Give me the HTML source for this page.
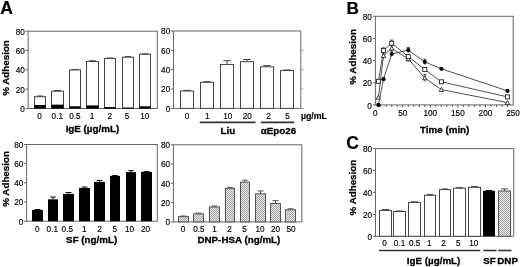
<!DOCTYPE html>
<html><head><meta charset="utf-8"><style>
html,body{margin:0;padding:0;background:#fff;width:520px;height:267px;overflow:hidden}
svg{display:block;filter:grayscale(1) blur(0.35px)}
text{font-family:"Liberation Sans", sans-serif}
</style></head><body>
<svg width="520" height="267" viewBox="0 0 520 267">
<defs><pattern id="hatch" width="2" height="2" patternUnits="userSpaceOnUse">
<rect width="2" height="2" fill="#e8e8e8"/><rect width="1" height="1" fill="#a6a6a6"/><rect x="1" y="1" width="1" height="1" fill="#a6a6a6"/></pattern></defs>
<rect width="520" height="267" fill="#fff"/>
<text x="0.2" y="14" font-size="17.5" text-anchor="start" font-weight="bold" fill="#000" stroke="#000" stroke-width="0.2">A</text>
<text x="346.4" y="13.8" font-size="17.2" text-anchor="start" font-weight="bold" fill="#000" stroke="#000" stroke-width="0.2">B</text>
<text x="346.2" y="148.5" font-size="17.5" text-anchor="start" font-weight="bold" fill="#000" stroke="#000" stroke-width="0.2">C</text>
<rect x="28.1" y="31.2" width="129.2" height="77.3" fill="none" stroke="#666" stroke-width="1"/>
<line x1="25.5" y1="108.5" x2="28.1" y2="108.5" stroke="#666" stroke-width="1"/>
<text x="24.8" y="111.9" font-size="8.2" text-anchor="end" fill="#000" stroke="#000" stroke-width="0.15">0</text>
<line x1="25.5" y1="89.17" x2="28.1" y2="89.17" stroke="#666" stroke-width="1"/>
<text x="24.8" y="92.58" font-size="8.2" text-anchor="end" fill="#000" stroke="#000" stroke-width="0.15">20</text>
<line x1="25.5" y1="69.85" x2="28.1" y2="69.85" stroke="#666" stroke-width="1"/>
<text x="24.8" y="73.25" font-size="8.2" text-anchor="end" fill="#000" stroke="#000" stroke-width="0.15">40</text>
<line x1="25.5" y1="50.53" x2="28.1" y2="50.53" stroke="#666" stroke-width="1"/>
<text x="24.8" y="53.93" font-size="8.2" text-anchor="end" fill="#000" stroke="#000" stroke-width="0.15">60</text>
<line x1="25.5" y1="31.2" x2="28.1" y2="31.2" stroke="#666" stroke-width="1"/>
<text x="24.8" y="34.6" font-size="8.2" text-anchor="end" fill="#000" stroke="#000" stroke-width="0.15">80</text>
<rect x="34.5" y="96.71" width="11" height="11.79" fill="#fff" stroke="#444" stroke-width="1"/>
<rect x="34.5" y="105.02" width="11" height="3.48" fill="#000"/>
<line x1="40" y1="96.04" x2="40" y2="96.71" stroke="#444" stroke-width="1"/>
<line x1="36.76" y1="96.04" x2="43.24" y2="96.04" stroke="#444" stroke-width="1"/>
<rect x="51.5" y="91.2" width="12" height="17.3" fill="#fff" stroke="#444" stroke-width="1"/>
<rect x="51.5" y="104.64" width="12" height="3.86" fill="#000"/>
<line x1="57.5" y1="90.53" x2="57.5" y2="91.2" stroke="#444" stroke-width="1"/>
<line x1="53.99" y1="90.53" x2="61.01" y2="90.53" stroke="#444" stroke-width="1"/>
<rect x="69.5" y="69.95" width="11" height="38.55" fill="#fff" stroke="#444" stroke-width="1"/>
<rect x="69.5" y="106.28" width="11" height="2.22" fill="#000"/>
<line x1="75" y1="69.46" x2="75" y2="69.95" stroke="#444" stroke-width="1"/>
<line x1="71.76" y1="69.46" x2="78.24" y2="69.46" stroke="#444" stroke-width="1"/>
<rect x="86.5" y="61.44" width="12" height="47.06" fill="#fff" stroke="#444" stroke-width="1"/>
<rect x="86.5" y="105.41" width="12" height="3.09" fill="#000"/>
<line x1="92.5" y1="60.77" x2="92.5" y2="61.44" stroke="#444" stroke-width="1"/>
<line x1="88.99" y1="60.77" x2="96.01" y2="60.77" stroke="#444" stroke-width="1"/>
<rect x="104.5" y="58.54" width="11" height="49.96" fill="#fff" stroke="#444" stroke-width="1"/>
<rect x="104.5" y="107.05" width="11" height="1.45" fill="#000"/>
<line x1="110" y1="57.97" x2="110" y2="58.54" stroke="#444" stroke-width="1"/>
<line x1="106.76" y1="57.97" x2="113.24" y2="57.97" stroke="#444" stroke-width="1"/>
<rect x="122.5" y="57.19" width="11" height="51.31" fill="#fff" stroke="#444" stroke-width="1"/>
<rect x="122.5" y="107.53" width="11" height="0.97" fill="#000"/>
<line x1="128" y1="56.61" x2="128" y2="57.19" stroke="#444" stroke-width="1"/>
<line x1="124.76" y1="56.61" x2="131.24" y2="56.61" stroke="#444" stroke-width="1"/>
<rect x="139.5" y="54.29" width="11" height="54.21" fill="#fff" stroke="#444" stroke-width="1"/>
<rect x="139.5" y="106.28" width="11" height="2.22" fill="#000"/>
<line x1="145" y1="53.81" x2="145" y2="54.29" stroke="#444" stroke-width="1"/>
<line x1="141.76" y1="53.81" x2="148.24" y2="53.81" stroke="#444" stroke-width="1"/>
<text x="39.5" y="119.3" font-size="8.2" text-anchor="middle" fill="#000" stroke="#000" stroke-width="0.15">0</text>
<text x="57.3" y="119.3" font-size="8.2" text-anchor="middle" fill="#000" stroke="#000" stroke-width="0.15">0.1</text>
<text x="74.9" y="119.3" font-size="8.2" text-anchor="middle" fill="#000" stroke="#000" stroke-width="0.15">0.5</text>
<text x="92.1" y="119.3" font-size="8.2" text-anchor="middle" fill="#000" stroke="#000" stroke-width="0.15">1</text>
<text x="109.8" y="119.3" font-size="8.2" text-anchor="middle" fill="#000" stroke="#000" stroke-width="0.15">2</text>
<text x="127" y="119.3" font-size="8.2" text-anchor="middle" fill="#000" stroke="#000" stroke-width="0.15">5</text>
<text x="144.7" y="119.3" font-size="8.2" text-anchor="middle" fill="#000" stroke="#000" stroke-width="0.15">10</text>
<text x="92.4" y="131.5" font-size="9.8" text-anchor="middle" font-weight="bold" fill="#000" stroke="#000" stroke-width="0.3">IgE (µg/mL)</text>
<text x="0" y="0" font-size="9.8" font-weight="bold" text-anchor="middle" fill="#000" stroke="#000" stroke-width="0.25" transform="translate(9,68) rotate(-90)">% Adhesion</text>
<rect x="173.5" y="31" width="127.3" height="77.4" fill="none" stroke="#666" stroke-width="1"/>
<line x1="170.9" y1="108.4" x2="173.5" y2="108.4" stroke="#666" stroke-width="1"/>
<line x1="300.8" y1="108.4" x2="303.4" y2="108.4" stroke="#999" stroke-width="1"/>
<text x="170.2" y="111.8" font-size="8.2" text-anchor="end" fill="#000" stroke="#000" stroke-width="0.15">0</text>
<line x1="170.9" y1="89.05" x2="173.5" y2="89.05" stroke="#666" stroke-width="1"/>
<line x1="300.8" y1="89.05" x2="303.4" y2="89.05" stroke="#999" stroke-width="1"/>
<text x="170.2" y="92.45" font-size="8.2" text-anchor="end" fill="#000" stroke="#000" stroke-width="0.15">20</text>
<line x1="170.9" y1="69.7" x2="173.5" y2="69.7" stroke="#666" stroke-width="1"/>
<line x1="300.8" y1="69.7" x2="303.4" y2="69.7" stroke="#999" stroke-width="1"/>
<text x="170.2" y="73.1" font-size="8.2" text-anchor="end" fill="#000" stroke="#000" stroke-width="0.15">40</text>
<line x1="170.9" y1="50.35" x2="173.5" y2="50.35" stroke="#666" stroke-width="1"/>
<line x1="300.8" y1="50.35" x2="303.4" y2="50.35" stroke="#999" stroke-width="1"/>
<text x="170.2" y="53.75" font-size="8.2" text-anchor="end" fill="#000" stroke="#000" stroke-width="0.15">60</text>
<line x1="170.9" y1="31" x2="173.5" y2="31" stroke="#666" stroke-width="1"/>
<text x="170.2" y="34.4" font-size="8.2" text-anchor="end" fill="#000" stroke="#000" stroke-width="0.15">80</text>
<rect x="180.5" y="90.99" width="13" height="17.41" fill="#fff" stroke="#444" stroke-width="1"/>
<line x1="187" y1="90.4" x2="187" y2="90.99" stroke="#444" stroke-width="1"/>
<line x1="183.22" y1="90.4" x2="190.78" y2="90.4" stroke="#444" stroke-width="1"/>
<rect x="200.5" y="82.28" width="13" height="26.12" fill="#fff" stroke="#444" stroke-width="1"/>
<line x1="207" y1="81.7" x2="207" y2="82.28" stroke="#444" stroke-width="1"/>
<line x1="203.22" y1="81.7" x2="210.78" y2="81.7" stroke="#444" stroke-width="1"/>
<rect x="220.5" y="64.57" width="13" height="43.83" fill="#fff" stroke="#444" stroke-width="1"/>
<line x1="227" y1="60.7" x2="227" y2="64.57" stroke="#444" stroke-width="1"/>
<line x1="223.22" y1="60.7" x2="230.78" y2="60.7" stroke="#444" stroke-width="1"/>
<rect x="240.5" y="61.67" width="13" height="46.73" fill="#fff" stroke="#444" stroke-width="1"/>
<line x1="247" y1="59.54" x2="247" y2="61.67" stroke="#444" stroke-width="1"/>
<line x1="243.22" y1="59.54" x2="250.78" y2="59.54" stroke="#444" stroke-width="1"/>
<rect x="260.5" y="66.8" width="13" height="41.6" fill="#fff" stroke="#444" stroke-width="1"/>
<line x1="267" y1="65.64" x2="267" y2="66.8" stroke="#444" stroke-width="1"/>
<line x1="263.22" y1="65.64" x2="270.78" y2="65.64" stroke="#444" stroke-width="1"/>
<rect x="280.5" y="70.57" width="13" height="37.83" fill="#fff" stroke="#444" stroke-width="1"/>
<line x1="287" y1="69.99" x2="287" y2="70.57" stroke="#444" stroke-width="1"/>
<line x1="283.22" y1="69.99" x2="290.78" y2="69.99" stroke="#444" stroke-width="1"/>
<text x="187.1" y="119.3" font-size="8.2" text-anchor="middle" fill="#000" stroke="#000" stroke-width="0.15">0</text>
<text x="207.2" y="119.3" font-size="8.2" text-anchor="middle" fill="#000" stroke="#000" stroke-width="0.15">1</text>
<text x="227.8" y="119.3" font-size="8.2" text-anchor="middle" fill="#000" stroke="#000" stroke-width="0.15">10</text>
<text x="247.3" y="119.3" font-size="8.2" text-anchor="middle" fill="#000" stroke="#000" stroke-width="0.15">20</text>
<text x="268.6" y="119.3" font-size="8.2" text-anchor="middle" fill="#000" stroke="#000" stroke-width="0.15">2</text>
<text x="287.6" y="119.3" font-size="8.2" text-anchor="middle" fill="#000" stroke="#000" stroke-width="0.15">5</text>
<text x="300.9" y="119.3" font-size="8.8" text-anchor="start" font-weight="bold" fill="#000" stroke="#000" stroke-width="0.15">µg/mL</text>
<line x1="199.7" y1="122.4" x2="255.5" y2="122.4" stroke="#333" stroke-width="1.6"/>
<line x1="260.7" y1="122.4" x2="294.2" y2="122.4" stroke="#333" stroke-width="1.6"/>
<text x="227.8" y="133.8" font-size="9.8" text-anchor="middle" font-weight="bold" fill="#000" stroke="#000" stroke-width="0.3">Liu</text>
<text x="278.5" y="133.8" font-size="9.8" text-anchor="middle" font-weight="bold" fill="#000" stroke="#000" stroke-width="0.3">αEpo26</text>
<rect x="26.6" y="144.5" width="130.7" height="76.7" fill="none" stroke="#666" stroke-width="1"/>
<line x1="24" y1="221.2" x2="26.6" y2="221.2" stroke="#666" stroke-width="1"/>
<text x="23.3" y="224.6" font-size="8.2" text-anchor="end" fill="#000" stroke="#000" stroke-width="0.15">0</text>
<line x1="24" y1="202.02" x2="26.6" y2="202.02" stroke="#666" stroke-width="1"/>
<text x="23.3" y="205.42" font-size="8.2" text-anchor="end" fill="#000" stroke="#000" stroke-width="0.15">20</text>
<line x1="24" y1="182.85" x2="26.6" y2="182.85" stroke="#666" stroke-width="1"/>
<text x="23.3" y="186.25" font-size="8.2" text-anchor="end" fill="#000" stroke="#000" stroke-width="0.15">40</text>
<line x1="24" y1="163.68" x2="26.6" y2="163.68" stroke="#666" stroke-width="1"/>
<text x="23.3" y="167.08" font-size="8.2" text-anchor="end" fill="#000" stroke="#000" stroke-width="0.15">60</text>
<line x1="24" y1="144.5" x2="26.6" y2="144.5" stroke="#666" stroke-width="1"/>
<text x="23.3" y="147.9" font-size="8.2" text-anchor="end" fill="#000" stroke="#000" stroke-width="0.15">80</text>
<rect x="32" y="209.98" width="11" height="11.22" fill="#000"/>
<line x1="37.5" y1="209.5" x2="37.5" y2="209.98" stroke="#000" stroke-width="1"/>
<line x1="34.53" y1="209.5" x2="40.47" y2="209.5" stroke="#000" stroke-width="1"/>
<rect x="48" y="199.34" width="10" height="21.86" fill="#000"/>
<line x1="53" y1="197.04" x2="53" y2="199.34" stroke="#000" stroke-width="1"/>
<line x1="50.3" y1="197.04" x2="55.7" y2="197.04" stroke="#000" stroke-width="1"/>
<rect x="63" y="193.88" width="11" height="27.32" fill="#000"/>
<line x1="68.5" y1="192.53" x2="68.5" y2="193.88" stroke="#000" stroke-width="1"/>
<line x1="65.53" y1="192.53" x2="71.47" y2="192.53" stroke="#000" stroke-width="1"/>
<rect x="79" y="188.03" width="11" height="33.17" fill="#000"/>
<line x1="84.5" y1="187.07" x2="84.5" y2="188.03" stroke="#000" stroke-width="1"/>
<line x1="81.53" y1="187.07" x2="87.47" y2="187.07" stroke="#000" stroke-width="1"/>
<rect x="94" y="181.99" width="11" height="39.21" fill="#000"/>
<line x1="99.5" y1="180.55" x2="99.5" y2="181.99" stroke="#000" stroke-width="1"/>
<line x1="96.53" y1="180.55" x2="102.47" y2="180.55" stroke="#000" stroke-width="1"/>
<rect x="110" y="175.85" width="10" height="45.35" fill="#000"/>
<line x1="115" y1="175.47" x2="115" y2="175.85" stroke="#000" stroke-width="1"/>
<line x1="112.3" y1="175.47" x2="117.7" y2="175.47" stroke="#000" stroke-width="1"/>
<rect x="126" y="172.11" width="10" height="49.09" fill="#000"/>
<line x1="131" y1="170.67" x2="131" y2="172.11" stroke="#000" stroke-width="1"/>
<line x1="128.3" y1="170.67" x2="133.7" y2="170.67" stroke="#000" stroke-width="1"/>
<rect x="141" y="171.92" width="11" height="49.28" fill="#000"/>
<line x1="146.5" y1="171.63" x2="146.5" y2="171.92" stroke="#000" stroke-width="1"/>
<line x1="143.53" y1="171.63" x2="149.47" y2="171.63" stroke="#000" stroke-width="1"/>
<text x="37.2" y="231.5" font-size="8.2" text-anchor="middle" fill="#000" stroke="#000" stroke-width="0.15">0</text>
<text x="52.3" y="231.5" font-size="8.2" text-anchor="middle" fill="#000" stroke="#000" stroke-width="0.15">0.1</text>
<text x="67.3" y="231.5" font-size="8.2" text-anchor="middle" fill="#000" stroke="#000" stroke-width="0.15">0.5</text>
<text x="84.2" y="231.5" font-size="8.2" text-anchor="middle" fill="#000" stroke="#000" stroke-width="0.15">1</text>
<text x="99.6" y="231.5" font-size="8.2" text-anchor="middle" fill="#000" stroke="#000" stroke-width="0.15">2</text>
<text x="114.7" y="231.5" font-size="8.2" text-anchor="middle" fill="#000" stroke="#000" stroke-width="0.15">5</text>
<text x="129.6" y="231.5" font-size="8.2" text-anchor="middle" fill="#000" stroke="#000" stroke-width="0.15">10</text>
<text x="145.6" y="231.5" font-size="8.2" text-anchor="middle" fill="#000" stroke="#000" stroke-width="0.15">20</text>
<text x="91.7" y="243.3" font-size="9.8" text-anchor="middle" font-weight="bold" fill="#000" stroke="#000" stroke-width="0.3">SF (ng/mL)</text>
<text x="0" y="0" font-size="9.8" font-weight="bold" text-anchor="middle" fill="#000" stroke="#000" stroke-width="0.25" transform="translate(9,178.9) rotate(-90)">% Adhesion</text>
<rect x="173.4" y="144.8" width="128.4" height="77.1" fill="none" stroke="#666" stroke-width="1"/>
<line x1="170.8" y1="221.9" x2="173.4" y2="221.9" stroke="#666" stroke-width="1"/>
<text x="170.1" y="225.3" font-size="8.2" text-anchor="end" fill="#000" stroke="#000" stroke-width="0.15">0</text>
<line x1="170.8" y1="202.62" x2="173.4" y2="202.62" stroke="#666" stroke-width="1"/>
<text x="170.1" y="206.03" font-size="8.2" text-anchor="end" fill="#000" stroke="#000" stroke-width="0.15">20</text>
<line x1="170.8" y1="183.35" x2="173.4" y2="183.35" stroke="#666" stroke-width="1"/>
<text x="170.1" y="186.75" font-size="8.2" text-anchor="end" fill="#000" stroke="#000" stroke-width="0.15">40</text>
<line x1="170.8" y1="164.08" x2="173.4" y2="164.08" stroke="#666" stroke-width="1"/>
<text x="170.1" y="167.48" font-size="8.2" text-anchor="end" fill="#000" stroke="#000" stroke-width="0.15">60</text>
<line x1="170.8" y1="144.8" x2="173.4" y2="144.8" stroke="#666" stroke-width="1"/>
<text x="170.1" y="148.2" font-size="8.2" text-anchor="end" fill="#000" stroke="#000" stroke-width="0.15">80</text>
<rect x="178.5" y="216.6" width="10" height="5.3" fill="url(#hatch)" stroke="#555" stroke-width="1"/>
<line x1="183.5" y1="216.02" x2="183.5" y2="216.6" stroke="#555" stroke-width="1"/>
<line x1="180.53" y1="216.02" x2="186.47" y2="216.02" stroke="#555" stroke-width="1"/>
<rect x="193.5" y="213.9" width="10" height="8" fill="url(#hatch)" stroke="#555" stroke-width="1"/>
<line x1="198.5" y1="213.13" x2="198.5" y2="213.9" stroke="#555" stroke-width="1"/>
<line x1="195.53" y1="213.13" x2="201.47" y2="213.13" stroke="#555" stroke-width="1"/>
<rect x="209.5" y="206.96" width="10" height="14.94" fill="url(#hatch)" stroke="#555" stroke-width="1"/>
<line x1="214.5" y1="206" x2="214.5" y2="206.96" stroke="#555" stroke-width="1"/>
<line x1="211.53" y1="206" x2="217.47" y2="206" stroke="#555" stroke-width="1"/>
<rect x="225.5" y="188.36" width="9" height="33.54" fill="url(#hatch)" stroke="#555" stroke-width="1"/>
<line x1="230" y1="187.4" x2="230" y2="188.36" stroke="#555" stroke-width="1"/>
<line x1="227.3" y1="187.4" x2="232.7" y2="187.4" stroke="#555" stroke-width="1"/>
<rect x="240.5" y="182.1" width="9" height="39.8" fill="url(#hatch)" stroke="#555" stroke-width="1"/>
<line x1="245" y1="180.17" x2="245" y2="182.1" stroke="#555" stroke-width="1"/>
<line x1="242.3" y1="180.17" x2="247.7" y2="180.17" stroke="#555" stroke-width="1"/>
<rect x="255.5" y="193.85" width="10" height="28.05" fill="url(#hatch)" stroke="#555" stroke-width="1"/>
<line x1="260.5" y1="190.96" x2="260.5" y2="193.85" stroke="#555" stroke-width="1"/>
<line x1="257.53" y1="190.96" x2="263.47" y2="190.96" stroke="#555" stroke-width="1"/>
<rect x="270.5" y="203.49" width="10" height="18.41" fill="url(#hatch)" stroke="#555" stroke-width="1"/>
<line x1="275.5" y1="200.6" x2="275.5" y2="203.49" stroke="#555" stroke-width="1"/>
<line x1="272.53" y1="200.6" x2="278.47" y2="200.6" stroke="#555" stroke-width="1"/>
<rect x="285.5" y="209.76" width="10" height="12.14" fill="url(#hatch)" stroke="#555" stroke-width="1"/>
<line x1="290.5" y1="208.79" x2="290.5" y2="209.76" stroke="#555" stroke-width="1"/>
<line x1="287.53" y1="208.79" x2="293.47" y2="208.79" stroke="#555" stroke-width="1"/>
<text x="183" y="231.5" font-size="8.2" text-anchor="middle" fill="#000" stroke="#000" stroke-width="0.15">0</text>
<text x="198.9" y="231.5" font-size="8.2" text-anchor="middle" fill="#000" stroke="#000" stroke-width="0.15">0.5</text>
<text x="214.5" y="231.5" font-size="8.2" text-anchor="middle" fill="#000" stroke="#000" stroke-width="0.15">1</text>
<text x="229.5" y="231.5" font-size="8.2" text-anchor="middle" fill="#000" stroke="#000" stroke-width="0.15">2</text>
<text x="244.6" y="231.5" font-size="8.2" text-anchor="middle" fill="#000" stroke="#000" stroke-width="0.15">5</text>
<text x="260" y="231.5" font-size="8.2" text-anchor="middle" fill="#000" stroke="#000" stroke-width="0.15">10</text>
<text x="275.5" y="231.5" font-size="8.2" text-anchor="middle" fill="#000" stroke="#000" stroke-width="0.15">20</text>
<text x="291.1" y="231.5" font-size="8.2" text-anchor="middle" fill="#000" stroke="#000" stroke-width="0.15">50</text>
<text x="238.9" y="243.1" font-size="9.8" text-anchor="middle" font-weight="bold" fill="#000" stroke="#000" stroke-width="0.3">DNP-HSA (ng/mL)</text>
<rect x="375.4" y="16.3" width="137.8" height="88.6" fill="none" stroke="#666" stroke-width="1"/>
<line x1="372.8" y1="104.9" x2="375.4" y2="104.9" stroke="#666" stroke-width="1"/>
<text x="371.9" y="109.4" font-size="8.2" text-anchor="end" fill="#000" stroke="#000" stroke-width="0.15">0</text>
<line x1="372.8" y1="82.75" x2="375.4" y2="82.75" stroke="#666" stroke-width="1"/>
<text x="371.9" y="86.15" font-size="8.2" text-anchor="end" fill="#000" stroke="#000" stroke-width="0.15">20</text>
<line x1="372.8" y1="60.6" x2="375.4" y2="60.6" stroke="#666" stroke-width="1"/>
<text x="371.9" y="64" font-size="8.2" text-anchor="end" fill="#000" stroke="#000" stroke-width="0.15">40</text>
<line x1="372.8" y1="38.45" x2="375.4" y2="38.45" stroke="#666" stroke-width="1"/>
<text x="371.9" y="41.85" font-size="8.2" text-anchor="end" fill="#000" stroke="#000" stroke-width="0.15">60</text>
<line x1="372.8" y1="16.3" x2="375.4" y2="16.3" stroke="#666" stroke-width="1"/>
<text x="371.9" y="19.7" font-size="8.2" text-anchor="end" fill="#000" stroke="#000" stroke-width="0.15">80</text>
<line x1="380.71" y1="104.9" x2="380.71" y2="106.9" stroke="#555" stroke-width="1"/>
<line x1="386.23" y1="104.9" x2="386.23" y2="106.9" stroke="#555" stroke-width="1"/>
<line x1="391.74" y1="104.9" x2="391.74" y2="106.9" stroke="#555" stroke-width="1"/>
<line x1="397.25" y1="104.9" x2="397.25" y2="106.9" stroke="#555" stroke-width="1"/>
<line x1="402.76" y1="104.9" x2="402.76" y2="107.5" stroke="#555" stroke-width="1"/>
<line x1="408.28" y1="104.9" x2="408.28" y2="106.9" stroke="#555" stroke-width="1"/>
<line x1="413.79" y1="104.9" x2="413.79" y2="106.9" stroke="#555" stroke-width="1"/>
<line x1="419.3" y1="104.9" x2="419.3" y2="106.9" stroke="#555" stroke-width="1"/>
<line x1="424.82" y1="104.9" x2="424.82" y2="106.9" stroke="#555" stroke-width="1"/>
<line x1="430.33" y1="104.9" x2="430.33" y2="107.5" stroke="#555" stroke-width="1"/>
<line x1="435.84" y1="104.9" x2="435.84" y2="106.9" stroke="#555" stroke-width="1"/>
<line x1="441.36" y1="104.9" x2="441.36" y2="106.9" stroke="#555" stroke-width="1"/>
<line x1="446.87" y1="104.9" x2="446.87" y2="106.9" stroke="#555" stroke-width="1"/>
<line x1="452.38" y1="104.9" x2="452.38" y2="106.9" stroke="#555" stroke-width="1"/>
<line x1="457.89" y1="104.9" x2="457.89" y2="107.5" stroke="#555" stroke-width="1"/>
<line x1="463.41" y1="104.9" x2="463.41" y2="106.9" stroke="#555" stroke-width="1"/>
<line x1="468.92" y1="104.9" x2="468.92" y2="106.9" stroke="#555" stroke-width="1"/>
<line x1="474.43" y1="104.9" x2="474.43" y2="106.9" stroke="#555" stroke-width="1"/>
<line x1="479.95" y1="104.9" x2="479.95" y2="106.9" stroke="#555" stroke-width="1"/>
<line x1="485.46" y1="104.9" x2="485.46" y2="107.5" stroke="#555" stroke-width="1"/>
<line x1="490.97" y1="104.9" x2="490.97" y2="106.9" stroke="#555" stroke-width="1"/>
<line x1="496.49" y1="104.9" x2="496.49" y2="106.9" stroke="#555" stroke-width="1"/>
<line x1="502" y1="104.9" x2="502" y2="106.9" stroke="#555" stroke-width="1"/>
<line x1="507.51" y1="104.9" x2="507.51" y2="106.9" stroke="#555" stroke-width="1"/>
<text x="375.2" y="116.3" font-size="8.2" text-anchor="middle" fill="#000" stroke="#000" stroke-width="0.15">0</text>
<text x="402.76" y="116.3" font-size="8.2" text-anchor="middle" fill="#000" stroke="#000" stroke-width="0.15">50</text>
<text x="430.33" y="116.3" font-size="8.2" text-anchor="middle" fill="#000" stroke="#000" stroke-width="0.15">100</text>
<text x="457.89" y="116.3" font-size="8.2" text-anchor="middle" fill="#000" stroke="#000" stroke-width="0.15">150</text>
<text x="485.46" y="116.3" font-size="8.2" text-anchor="middle" fill="#000" stroke="#000" stroke-width="0.15">200</text>
<text x="513.02" y="116.3" font-size="8.2" text-anchor="middle" fill="#000" stroke="#000" stroke-width="0.15">250</text>
<text x="444.7" y="133" font-size="9.8" text-anchor="middle" font-weight="bold" fill="#000" stroke="#000" stroke-width="0.3">Time (min)</text>
<text x="0" y="0" font-size="9.8" font-weight="bold" text-anchor="middle" fill="#000" stroke="#000" stroke-width="0.25" transform="translate(356.4,56.9) rotate(-90)">% Adhesion</text>
<polyline fill="none" stroke="#333" stroke-width="0.85" points="378.4,97.4 383.5,55.6 391.7,48.3 408.3,59.0 424.8,78.0 441.4,89.6 507.5,102.6"/>
<polyline fill="none" stroke="#333" stroke-width="0.85" points="378.4,81.3 383.5,50.4 391.7,43.2 408.3,56.6 424.8,69.5 441.4,81.8 507.5,96.9"/>
<polyline fill="none" stroke="#333" stroke-width="0.85" points="378.4,104.9 383.5,79.2 391.7,54.0 408.3,50.1 424.8,61.9 441.4,68.8 507.5,90.9"/>
<path d="M376.2,99.2 L380.6,99.2 L378.4,95.3 Z" fill="#fff" stroke="#222" stroke-width="0.9"/>
<line x1="383.47" y1="53.01" x2="383.47" y2="58.22" stroke="#222" stroke-width="0.8"/>
<line x1="381.97" y1="53.01" x2="384.97" y2="53.01" stroke="#222" stroke-width="0.8"/>
<path d="M381.3,57.4 L385.7,57.4 L383.5,53.5 Z" fill="#fff" stroke="#222" stroke-width="0.9"/>
<line x1="391.74" y1="45.7" x2="391.74" y2="50.91" stroke="#222" stroke-width="0.8"/>
<line x1="390.24" y1="45.7" x2="393.24" y2="45.7" stroke="#222" stroke-width="0.8"/>
<path d="M389.5,50.1 L393.9,50.1 L391.7,46.2 Z" fill="#fff" stroke="#222" stroke-width="0.9"/>
<line x1="408.28" y1="56.44" x2="408.28" y2="61.66" stroke="#222" stroke-width="0.8"/>
<line x1="406.78" y1="56.44" x2="409.78" y2="56.44" stroke="#222" stroke-width="0.8"/>
<path d="M406.1,60.8 L410.5,60.8 L408.3,56.9 Z" fill="#fff" stroke="#222" stroke-width="0.9"/>
<line x1="424.82" y1="74.49" x2="424.82" y2="81.48" stroke="#222" stroke-width="0.8"/>
<line x1="423.32" y1="74.49" x2="426.32" y2="74.49" stroke="#222" stroke-width="0.8"/>
<path d="M422.6,79.8 L427.0,79.8 L424.8,75.9 Z" fill="#fff" stroke="#222" stroke-width="0.9"/>
<path d="M439.2,91.4 L443.6,91.4 L441.4,87.5 Z" fill="#fff" stroke="#222" stroke-width="0.9"/>
<path d="M505.3,104.4 L509.7,104.4 L507.5,100.5 Z" fill="#fff" stroke="#222" stroke-width="0.9"/>
<rect x="376.4" y="79.3" width="4" height="4" fill="#fff" stroke="#222" stroke-width="0.9"/>
<line x1="383.47" y1="47.8" x2="383.47" y2="53.02" stroke="#222" stroke-width="0.8"/>
<line x1="381.97" y1="47.8" x2="384.97" y2="47.8" stroke="#222" stroke-width="0.8"/>
<rect x="381.5" y="48.4" width="4" height="4" fill="#fff" stroke="#222" stroke-width="0.9"/>
<line x1="391.74" y1="40.05" x2="391.74" y2="46.37" stroke="#222" stroke-width="0.8"/>
<line x1="390.24" y1="40.05" x2="393.24" y2="40.05" stroke="#222" stroke-width="0.8"/>
<rect x="389.7" y="41.2" width="4" height="4" fill="#fff" stroke="#222" stroke-width="0.9"/>
<rect x="406.3" y="54.6" width="4" height="4" fill="#fff" stroke="#222" stroke-width="0.9"/>
<rect x="422.8" y="67.5" width="4" height="4" fill="#fff" stroke="#222" stroke-width="0.9"/>
<rect x="439.4" y="79.8" width="4" height="4" fill="#fff" stroke="#222" stroke-width="0.9"/>
<rect x="505.5" y="94.9" width="4" height="4" fill="#fff" stroke="#222" stroke-width="0.9"/>
<circle cx="378.4" cy="104.9" r="2.1" fill="#000"/>
<circle cx="383.5" cy="79.2" r="2.1" fill="#000"/>
<line x1="391.74" y1="51.35" x2="391.74" y2="56.56" stroke="#222" stroke-width="0.8"/>
<line x1="390.24" y1="51.35" x2="393.24" y2="51.35" stroke="#222" stroke-width="0.8"/>
<circle cx="391.7" cy="54.0" r="2.1" fill="#000"/>
<line x1="408.28" y1="47.47" x2="408.28" y2="52.69" stroke="#222" stroke-width="0.8"/>
<line x1="406.78" y1="47.47" x2="409.78" y2="47.47" stroke="#222" stroke-width="0.8"/>
<circle cx="408.3" cy="50.1" r="2.1" fill="#000"/>
<line x1="424.82" y1="59.1" x2="424.82" y2="64.76" stroke="#222" stroke-width="0.8"/>
<line x1="423.32" y1="59.1" x2="426.32" y2="59.1" stroke="#222" stroke-width="0.8"/>
<circle cx="424.8" cy="61.9" r="2.1" fill="#000"/>
<circle cx="441.4" cy="68.8" r="2.1" fill="#000"/>
<circle cx="507.5" cy="90.9" r="2.1" fill="#000"/>
<rect x="375.5" y="148.6" width="138.3" height="87.7" fill="none" stroke="#666" stroke-width="1"/>
<line x1="372.9" y1="236.3" x2="375.5" y2="236.3" stroke="#666" stroke-width="1"/>
<text x="372" y="239.7" font-size="8.2" text-anchor="end" fill="#000" stroke="#000" stroke-width="0.15">0</text>
<line x1="372.9" y1="214.38" x2="375.5" y2="214.38" stroke="#666" stroke-width="1"/>
<text x="372" y="217.78" font-size="8.2" text-anchor="end" fill="#000" stroke="#000" stroke-width="0.15">20</text>
<line x1="372.9" y1="192.45" x2="375.5" y2="192.45" stroke="#666" stroke-width="1"/>
<text x="372" y="195.85" font-size="8.2" text-anchor="end" fill="#000" stroke="#000" stroke-width="0.15">40</text>
<line x1="372.9" y1="170.53" x2="375.5" y2="170.53" stroke="#666" stroke-width="1"/>
<text x="372" y="173.93" font-size="8.2" text-anchor="end" fill="#000" stroke="#000" stroke-width="0.15">60</text>
<line x1="372.9" y1="148.6" x2="375.5" y2="148.6" stroke="#666" stroke-width="1"/>
<text x="372" y="152" font-size="8.2" text-anchor="end" fill="#000" stroke="#000" stroke-width="0.15">80</text>
<rect x="379.5" y="210.43" width="12" height="25.87" fill="#fff" stroke="#444" stroke-width="1"/>
<line x1="385.5" y1="209.55" x2="385.5" y2="210.43" stroke="#444" stroke-width="1"/>
<line x1="381.99" y1="209.55" x2="389.01" y2="209.55" stroke="#444" stroke-width="1"/>
<rect x="393.5" y="211.52" width="12" height="24.78" fill="#fff" stroke="#444" stroke-width="1"/>
<line x1="399.5" y1="210.98" x2="399.5" y2="211.52" stroke="#444" stroke-width="1"/>
<line x1="395.99" y1="210.98" x2="403.01" y2="210.98" stroke="#444" stroke-width="1"/>
<rect x="408.5" y="202.43" width="12" height="33.87" fill="#fff" stroke="#444" stroke-width="1"/>
<line x1="414.5" y1="201.77" x2="414.5" y2="202.43" stroke="#444" stroke-width="1"/>
<line x1="410.99" y1="201.77" x2="418.01" y2="201.77" stroke="#444" stroke-width="1"/>
<rect x="424.5" y="195.3" width="11" height="41" fill="#fff" stroke="#444" stroke-width="1"/>
<line x1="430" y1="194.42" x2="430" y2="195.3" stroke="#444" stroke-width="1"/>
<line x1="426.76" y1="194.42" x2="433.24" y2="194.42" stroke="#444" stroke-width="1"/>
<rect x="439.5" y="189.6" width="11" height="46.7" fill="#fff" stroke="#444" stroke-width="1"/>
<line x1="445" y1="188.94" x2="445" y2="189.6" stroke="#444" stroke-width="1"/>
<line x1="441.76" y1="188.94" x2="448.24" y2="188.94" stroke="#444" stroke-width="1"/>
<rect x="453.5" y="188.17" width="12" height="48.13" fill="#fff" stroke="#444" stroke-width="1"/>
<line x1="459.5" y1="187.63" x2="459.5" y2="188.17" stroke="#444" stroke-width="1"/>
<line x1="455.99" y1="187.63" x2="463.01" y2="187.63" stroke="#444" stroke-width="1"/>
<rect x="468.5" y="187.3" width="12" height="49" fill="#fff" stroke="#444" stroke-width="1"/>
<line x1="474.5" y1="186.64" x2="474.5" y2="187.3" stroke="#444" stroke-width="1"/>
<line x1="470.99" y1="186.64" x2="478.01" y2="186.64" stroke="#444" stroke-width="1"/>
<rect x="483" y="190.81" width="12" height="45.49" fill="#000"/>
<line x1="489" y1="190.48" x2="489" y2="190.81" stroke="#000" stroke-width="1"/>
<line x1="485.76" y1="190.48" x2="492.24" y2="190.48" stroke="#000" stroke-width="1"/>
<rect x="498.5" y="191.02" width="12" height="45.28" fill="url(#hatch)" stroke="#555" stroke-width="1"/>
<line x1="504.5" y1="188.83" x2="504.5" y2="191.02" stroke="#555" stroke-width="1"/>
<line x1="500.99" y1="188.83" x2="508.01" y2="188.83" stroke="#555" stroke-width="1"/>
<text x="384.5" y="246.3" font-size="8.2" text-anchor="middle" fill="#000" stroke="#000" stroke-width="0.15">0</text>
<text x="399.5" y="246.3" font-size="8.2" text-anchor="middle" fill="#000" stroke="#000" stroke-width="0.15">0.1</text>
<text x="414.6" y="246.3" font-size="8.2" text-anchor="middle" fill="#000" stroke="#000" stroke-width="0.15">0.5</text>
<text x="429.3" y="246.3" font-size="8.2" text-anchor="middle" fill="#000" stroke="#000" stroke-width="0.15">1</text>
<text x="443.6" y="246.3" font-size="8.2" text-anchor="middle" fill="#000" stroke="#000" stroke-width="0.15">2</text>
<text x="458.2" y="246.3" font-size="8.2" text-anchor="middle" fill="#000" stroke="#000" stroke-width="0.15">5</text>
<text x="473.8" y="246.3" font-size="8.2" text-anchor="middle" fill="#000" stroke="#000" stroke-width="0.15">10</text>
<line x1="379" y1="250.5" x2="480.3" y2="250.5" stroke="#333" stroke-width="1.6"/>
<line x1="483.4" y1="250.5" x2="496.6" y2="250.5" stroke="#333" stroke-width="1.6"/>
<line x1="498.2" y1="250.5" x2="511.5" y2="250.5" stroke="#333" stroke-width="1.6"/>
<text x="433.6" y="264.3" font-size="9.8" text-anchor="middle" font-weight="bold" fill="#000" stroke="#000" stroke-width="0.3">IgE (µg/mL)</text>
<text x="489.4" y="264.3" font-size="9.8" text-anchor="middle" font-weight="bold" fill="#000" stroke="#000" stroke-width="0.3">SF</text>
<text x="507.6" y="264.3" font-size="9.8" text-anchor="middle" font-weight="bold" fill="#000" stroke="#000" stroke-width="0.3">DNP</text>
<text x="0" y="0" font-size="9.8" font-weight="bold" text-anchor="middle" fill="#000" stroke="#000" stroke-width="0.25" transform="translate(356.4,187.6) rotate(-90)">% Adhesion</text>
</svg></body></html>
